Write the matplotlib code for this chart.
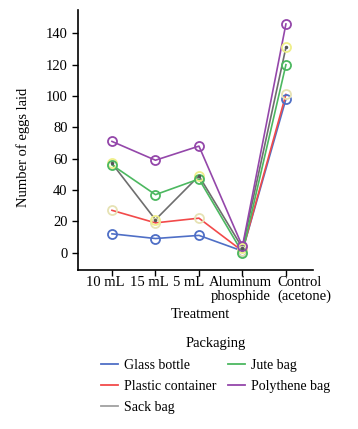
import numpy as np
import matplotlib
matplotlib.use("Agg")
from matplotlib import pyplot as plt

plt.rcParams["font.family"] = ["Liberation Serif", "DejaVu Serif"]

treatments = ["10 mL", "15 mL", "5 mL", "Aluminum\nphosphide", "Control\n(acetone)"]
packaging = ["Glass bottle", "Plastic container", "Sack bag", "Jute bag", "Polythene bag"]

glass = [12, 9, 11, 1, 98]
plastic = [27, 19, 22, 1, 101]
sack = [57, 21, 49, 3, 131]
jute = [56, 37, 47, 0, 120]
polythene = [71, 59, 68, 4, 146]

series = [glass, plastic, sack, jute, polythene]
line_colors = ["#4f6fc6", "#f24a4a", "#6e6e6e", "#4cb860", "#9447aa"]
marker_colors = ["#4f6fc6", "#e6e2b4", "#efef8a", "#4cb860", "#9447aa"]
legend_colors = ["#4f6fc6", "#f24a4a", "#a0a0a0", "#4cb860", "#9447aa"]

fig = plt.figure(figsize=(3.58, 4.29), dpi=100)
ax = fig.add_axes([0.218, 0.371, 0.656, 0.606])

x = np.arange(len(treatments))
for vals, lc, mc in zip(series, line_colors, marker_colors):
    ax.plot(x, vals, color=lc, lw=1.2, zorder=2)
    ax.plot(x, vals, "o", mfc="none", mec=mc, mew=1.3, ms=6.5, zorder=3)
# small dots on the sack bag line
ax.plot(x, sack, ".", color="#555555", ms=3, zorder=4)

ax.set_xlim(-0.78, 4.62)
ax.set_ylim(-11, 155)
ax.set_yticks(range(0, 141, 20))
ax.set_xticks(x)
ax.set_xticklabels([])

# tick labels placed by hand, the original nudges them left so they don't collide
nudge = [-7, -6, -10, -2, -9]
align = ["center", "center", "center", "center", "left"]
for xi, lab, dx, ha in zip(x, treatments, nudge, align):
    ax.annotate(lab, xy=(xi, 0), xycoords=ax.get_xaxis_transform(),
                xytext=(dx, -6), textcoords="offset pixels",
                ha=ha, va="top", fontsize=10.5, linespacing=1.1,
                multialignment="left" if ha == "left" else "center",
                annotation_clip=False)

ax.tick_params(axis="y", labelsize=10.5, length=4, width=1)
ax.tick_params(axis="x", length=4, width=1)
for s in ["top", "right"]:
    ax.spines[s].set_visible(False)
for s in ["left", "bottom"]:
    ax.spines[s].set_linewidth(1.2)
ax.set_ylabel("Number of eggs laid", fontsize=10.5)
ax.yaxis.set_label_coords(-0.205, 0.47)
ax.text(0.52, -0.145, "Treatment", transform=ax.transAxes,
        ha="center", va="top", fontsize=10.5)

handles = [plt.Line2D([], [], color=c, lw=1.3) for c in legend_colors]
leg = fig.legend(handles, packaging, title="Packaging", ncol=2, frameon=False,
                 loc="upper center", bbox_to_anchor=(0.602, 0.243),
                 fontsize=10, title_fontsize=10.5, handlelength=1.25,
                 handletextpad=0.4, columnspacing=0.85, labelspacing=0.6)

fig.savefig("out.png", dpi=100)
